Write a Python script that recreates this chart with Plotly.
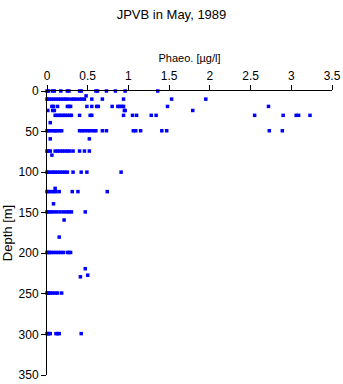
import plotly.graph_objects as go

# depth groups (m) and phaeopigment values (ug/l)
d0 = [0.0, 0.02, 0.07, 0.09, 0.17, 0.25, 0.27, 0.40, 0.42, 0.60, 0.62, 0.73, 0.84, 0.96, 1.36]
d6 = [0.48]
d10 = [0.0, 0.02, 0.05, 0.08, 0.11, 0.14, 0.17, 0.20, 0.23, 0.26, 0.30, 0.33, 0.36, 0.40, 0.43, 0.46, 0.55, 0.68, 0.94, 1.53, 1.95]
d20 = [0.06, 0.08, 0.13, 0.25, 0.27, 0.29, 0.49, 0.55, 0.61, 0.63, 0.80, 0.87, 0.89, 0.92, 0.94, 1.48, 2.72]
d25 = [0.01, 0.07, 0.09, 0.95, 0.96, 1.79]
d30 = [0.10, 0.12, 0.15, 0.17, 0.20, 0.22, 0.25, 0.28, 0.30, 0.40, 0.53, 0.55, 0.94, 1.05, 1.10, 1.28, 1.34, 2.55, 2.90, 3.06, 3.09, 3.23]
d39 = [0.04]
d50 = [0.0, 0.02, 0.05, 0.08, 0.10, 0.12, 0.15, 0.18, 0.40, 0.43, 0.46, 0.50, 0.53, 0.57, 0.60, 0.68, 0.73, 1.06, 1.09, 1.15, 1.41, 1.47, 2.73, 2.89]
d59 = [0.04, 0.52]
d74 = [0.0, 0.02, 0.04, 0.10, 0.13, 0.16, 0.19, 0.22, 0.25, 0.28, 0.32, 0.40, 0.46, 0.52]
d79 = [0.06]
d100 = [0.0, 0.02, 0.05, 0.08, 0.10, 0.13, 0.16, 0.19, 0.22, 0.25, 0.32, 0.42, 0.49, 0.91]
d120 = [0.10]
d124 = [0.0, 0.02, 0.05, 0.08, 0.11, 0.15, 0.31, 0.38, 0.74]
d139 = [0.08]
d149 = [0.0, 0.02, 0.05, 0.08, 0.12, 0.16, 0.20, 0.24, 0.27, 0.30, 0.47]
d159 = [0.21]
d180 = [0.15]
d199 = [0.0, 0.01, 0.03, 0.05, 0.08, 0.11, 0.14, 0.17, 0.20, 0.25, 0.27, 0.29]
d219 = [0.47]
d227 = [0.50]
d229 = [0.41]
d250 = [0.0, 0.01, 0.02, 0.04, 0.07, 0.10, 0.13, 0.18]
d300 = [0.0, 0.01, 0.02, 0.04, 0.11, 0.13, 0.15, 0.42]

groups = [(0, d0), (6, d6), (10, d10), (19, d20), (24, d25), (30, d30), (39, d39),
          (49, d50), (59, d59), (74, d74), (79, d79), (100, d100), (120, d120),
          (124, d124), (139, d139), (149, d149), (159, d159), (180, d180),
          (199, d199), (219, d219), (227, d227), (229, d229), (249, d250), (299, d300)]

xs, ys = [], []
for depth, vals in groups:
    for v in vals:
        xs.append(v)
        ys.append(depth)

fig = go.Figure(go.Scatter(
    x=xs, y=ys, mode="markers",
    marker=dict(symbol="square", size=3.5, color="#0000ff", line=dict(width=0)),
    showlegend=False, cliponaxis=False,
))

font = dict(family="Liberation Sans, Arial, sans-serif", size=12, color="black")
fig.update_layout(
    width=343, height=384,
    margin=dict(l=47, r=11, t=91, b=9),
    paper_bgcolor="white", plot_bgcolor="white",
    font=font,
    title=dict(text="JPVB in May, 1989", x=0.5, xanchor="center", y=0.975, yanchor="top",
               font=dict(size=13)),
    xaxis=dict(side="top", range=[0, 3.5], tickvals=[0, 0.5, 1, 1.5, 2, 2.5, 3, 3.5],
               ticktext=["0", "0.5", "1", "1.5", "2", "2.5", "3", "3.5"],
               ticks="outside", ticklen=5, tickcolor="black", showline=True,
               linecolor="black", linewidth=1, showgrid=False, zeroline=False,
               automargin=False,
               title=dict(text="Phaeo. [µg/l]", standoff=4, font=dict(size=11))),
    yaxis=dict(range=[350, 0], tickvals=[0, 50, 100, 150, 200, 250, 300, 350],
               ticks="outside", ticklen=5, tickcolor="black", showline=True,
               linecolor="black", linewidth=1, showgrid=False, zeroline=False,
               automargin=False,
               title=dict(text="Depth [m]", standoff=4, font=dict(size=13))),
)

fig.write_html("out.html")
